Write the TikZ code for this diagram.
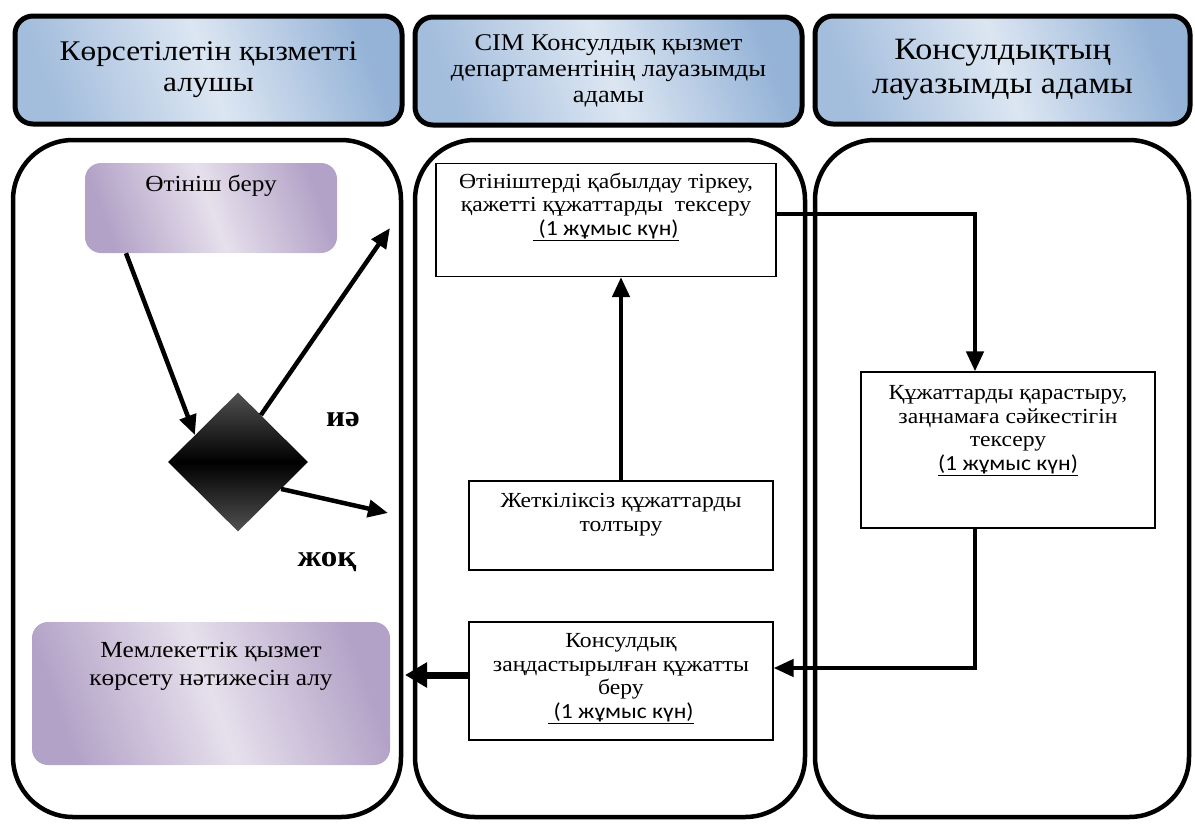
\documentclass[tikz,border=0pt]{standalone}
\usepackage{fontspec}
\setmainfont[FakeStretch=1.1]{Liberation Serif}
\newfontfamily\calibrifont[FakeStretch=1.1]{Carlito}
\usetikzlibrary{shapes.geometric, arrows.meta, positioning}
\definecolor{headlight}{HTML}{DCE6F2}
\definecolor{headdark}{HTML}{95B3D7}
\definecolor{lilaclight}{HTML}{E6E0EC}
\definecolor{lilacdark}{HTML}{B3A2C7}
\tikzstyle{every node}=[font=\fontsize{21.5}{23.5}\selectfont]
\tikzstyle{lanehead}=[draw, line width=5pt, rounded corners=18pt, minimum height=108pt, align=center, left color=headdark!80!headlight, right color=headdark, middle color=headlight, shading angle=110]
\tikzstyle{lane}=[draw, line width=4.5pt, rounded corners=60pt, minimum height=677pt]
\tikzstyle{actbox}=[rounded corners=16pt, left color=lilacdark, right color=lilacdark, middle color=lilaclight, shading angle=110]
\tikzstyle{stepbox}=[draw, line width=1.2pt, rectangle]
\tikzstyle{decide}=[diamond, inner sep=0pt, minimum width=140pt, minimum height=139pt, top color=black!68, bottom color=black!68, middle color=black]
\tikzstyle{boxtext}=[align=center, inner sep=0pt]
\tikzstyle{answer}=[font=\bfseries\fontsize{30}{32}\selectfont]
\tikzstyle{flow}=[line width=4.5pt, -{Triangle[length=20pt, width=17pt]}]
\newcommand{\days}[1]{\underline{{\calibrifont #1(1 жұмыс күн)}}}

\begin{document}
\begin{tikzpicture}[x=1pt, y=-1pt]
    \useasboundingbox (0,0) rectangle (1195,823);
    % swim lanes
    \node[lane, minimum width=388pt] (laneA) at (207,478.5) {};
    \node[lane, minimum width=390pt] (laneB) at (610,478.5) {};
    \node[lane, minimum width=374pt] (laneC) at (1002,478.5) {};
    % lane heads
    \node[lanehead, minimum width=387pt, font=\fontsize{28.5}{31}\selectfont] (headA) at (208.5,70) {Көрсетілетін қызметті\\алушы};
    \node[lanehead, minimum width=387pt, font=\fontsize{24}{26}\selectfont] (headB) at (608.5,71) {СІМ Консулдық қызмет\\департаментінің лауазымды\\адамы};
    \node[lanehead, minimum width=375pt, font=\fontsize{31}{34}\selectfont] (headC) at (1002.5,70) {Консулдықтың\\лауазымды адамы};
    % receiver
    \node[actbox, minimum width=252pt, minimum height=90pt] (apply) at (211,208) {};
    \node[boxtext, font=\fontsize{23}{28}\selectfont, below=12pt of apply.north] (applytxt) {Өтініш беру};
    \node[decide] (decision) at (238,462) {};
    \node[answer] (yes) at (343,420) {иә};
    \node[answer] (no) at (327,562) {жоқ};
    \coordinate (yesend) at (390,228);
    \coordinate (noend) at (388,513);
    \node[actbox, minimum width=358pt, minimum height=143pt] (result) at (211,693.5) {};
    \node[boxtext, font=\fontsize{23}{28}\selectfont, below=20pt of result.north] (resulttxt) {Мемлекеттік қызмет\\көрсету нәтижесін алу};
    \coordinate (resultin) at (405,675);
    % department
    \node[stepbox, minimum width=340pt, minimum height=113pt] (register) at (606,220) {};
    \node[boxtext, below=10pt of register.north] (registertxt) {Өтініштерді қабылдау тіркеу,\\қажетті құжаттарды\ \ тексеру\\\days{\ }};
    \node[stepbox, minimum width=304pt, minimum height=89pt] (complete) at (621,525.5) {};
    \node[boxtext, below=13pt of complete.north] (completetxt) {Жеткіліксіз құжаттарды\\толтыру};
    \node[stepbox, minimum width=304pt, minimum height=118pt] (issue) at (621,681) {};
    \node[boxtext, below=12pt of issue.north] (issuetxt) {Консулдық\\заңдастырылған құжатты\\беру\\\days{\ }};
    % consulate
    \node[stepbox, minimum width=294pt, minimum height=156pt] (review) at (1008,450) {};
    \node[boxtext, below=14pt of review.north] (reviewtxt) {Құжаттарды қарастыру,\\заңнамаға сәйкестігін\\тексеру\\\days{}};
    % connectors
    \draw[flow] (apply.208) -- (decision.148);
    \draw[flow] (decision.64) -- (yesend);
    \draw[flow] (decision.-32) -- (noend);
    \draw[flow] (complete.north) -- (complete.north |- register.south);
    \draw[flow] ([yshift=6pt]register.east) -| ([xshift=-33pt]review.north);
    \draw[flow] ([xshift=-33pt]review.south) |- ([yshift=13pt]issue.east);
    \draw[flow, line width=7pt, -{Triangle[length=22pt, width=24pt]}] ([yshift=6pt]issue.west) -- (resultin);
\end{tikzpicture}
\end{document}
